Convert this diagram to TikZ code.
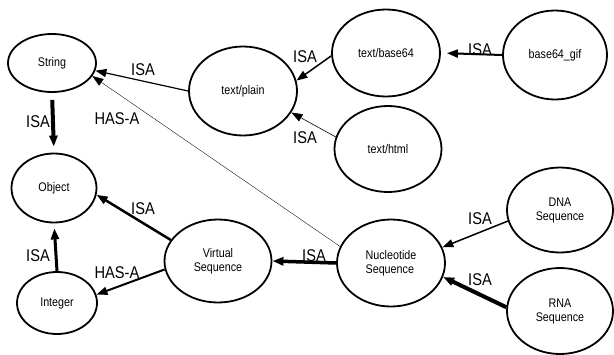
\documentclass[tikz,border=0pt]{standalone}
\usepackage{fontspec}
\setmainfont{Liberation Sans}[FakeStretch=0.86]
\usetikzlibrary{arrows.meta,shapes.geometric}

\begin{document}
\begin{tikzpicture}[x=1pt,y=-1pt,
  cls/.style={draw,ellipse,line width=1.8pt,inner sep=0pt,align=center,
    font=\fontsize{12.5}{14}\selectfont},
  rel/.style={-{Triangle[length=11pt,width=8pt]}},
  lbl/.style={font=\fontsize{17}{17}\selectfont,inner sep=0pt}]
\useasboundingbox (0,0) rectangle (614,354);
\node[cls,minimum width=88pt,minimum height=58pt] (str) at (52,63) {String};
\node[cls,minimum width=85pt,minimum height=69pt] (obj) at (54,188) {Object};
\node[cls,minimum width=80pt,minimum height=62pt] (int) at (57,303) {Integer};
\node[cls,minimum width=108pt,minimum height=89pt] (tp) at (243,91) {text/plain};
\node[cls,minimum width=108pt,minimum height=87pt] (tb) at (386,53) {text/base64};
\node[cls,minimum width=104pt,minimum height=89pt] (bg) at (555,55) {base64\_gif};
\node[cls,minimum width=107pt,minimum height=86pt] (th) at (388,149) {text/html};
\node[cls,minimum width=107pt,minimum height=83pt] (vs) at (218,261) {Virtual\\Sequence};
\node[cls,align=left,minimum width=108pt,minimum height=87pt] (nuc) at (391,263) {Nucleotide\\Sequence};
\node[cls,minimum width=106pt,minimum height=85pt] (dna) at (560,210) {DNA\\Sequence};
\node[cls,minimum width=106pt,minimum height=86pt] (rna) at (560,311) {RNA\\Sequence};

\draw[rel,line width=1.2pt] (tp.west) -- (str.-10);
\draw[rel,line width=4pt,shorten <=7pt,shorten >=6pt] (str.south) -- (obj.north);
\draw[rel,line width=0.35pt] (nuc.162) -- (str.-18);
\draw[rel,line width=1.5pt] (tb.183) -- (tp.11);
\draw[rel,line width=0.6pt] (th.167) -- (tp.-24);
\draw[rel,line width=2pt,shorten >=6pt] (bg.west) -- (tb.east);
\draw[rel,line width=2.5pt] (vs.156) -- (obj.-9);
\draw[rel,line width=3pt,shorten >=5pt] (int.north) -- (obj.south);
\draw[rel,line width=2pt] (vs.189) -- (int.12);
\draw[rel,line width=3.5pt] (nuc.west) -- (vs.east);
\draw[rel,line width=1.5pt] (dna.192) -- (nuc.17);
\draw[rel,line width=4pt] (rna.176) -- (nuc.-15);

\node[lbl] (isa1) at (143,70) {ISA};
\node[lbl] (isa2) at (38,122) {ISA};
\node[lbl] (has1) at (117,119) {HAS-A};
\node[lbl] (isa3) at (305,57) {ISA};
\node[lbl] (isa4) at (480,50) {ISA};
\node[lbl] (isa5) at (305,138) {ISA};
\node[lbl] (isa6) at (143,209) {ISA};
\node[lbl] (isa7) at (38,256) {ISA};
\node[lbl] (has2) at (117,273) {HAS-A};
\node[lbl] (isa8) at (314,256) {ISA};
\node[lbl] (isa9) at (480,219) {ISA};
\node[lbl] (isa10) at (480,280) {ISA};
\end{tikzpicture}
\end{document}
